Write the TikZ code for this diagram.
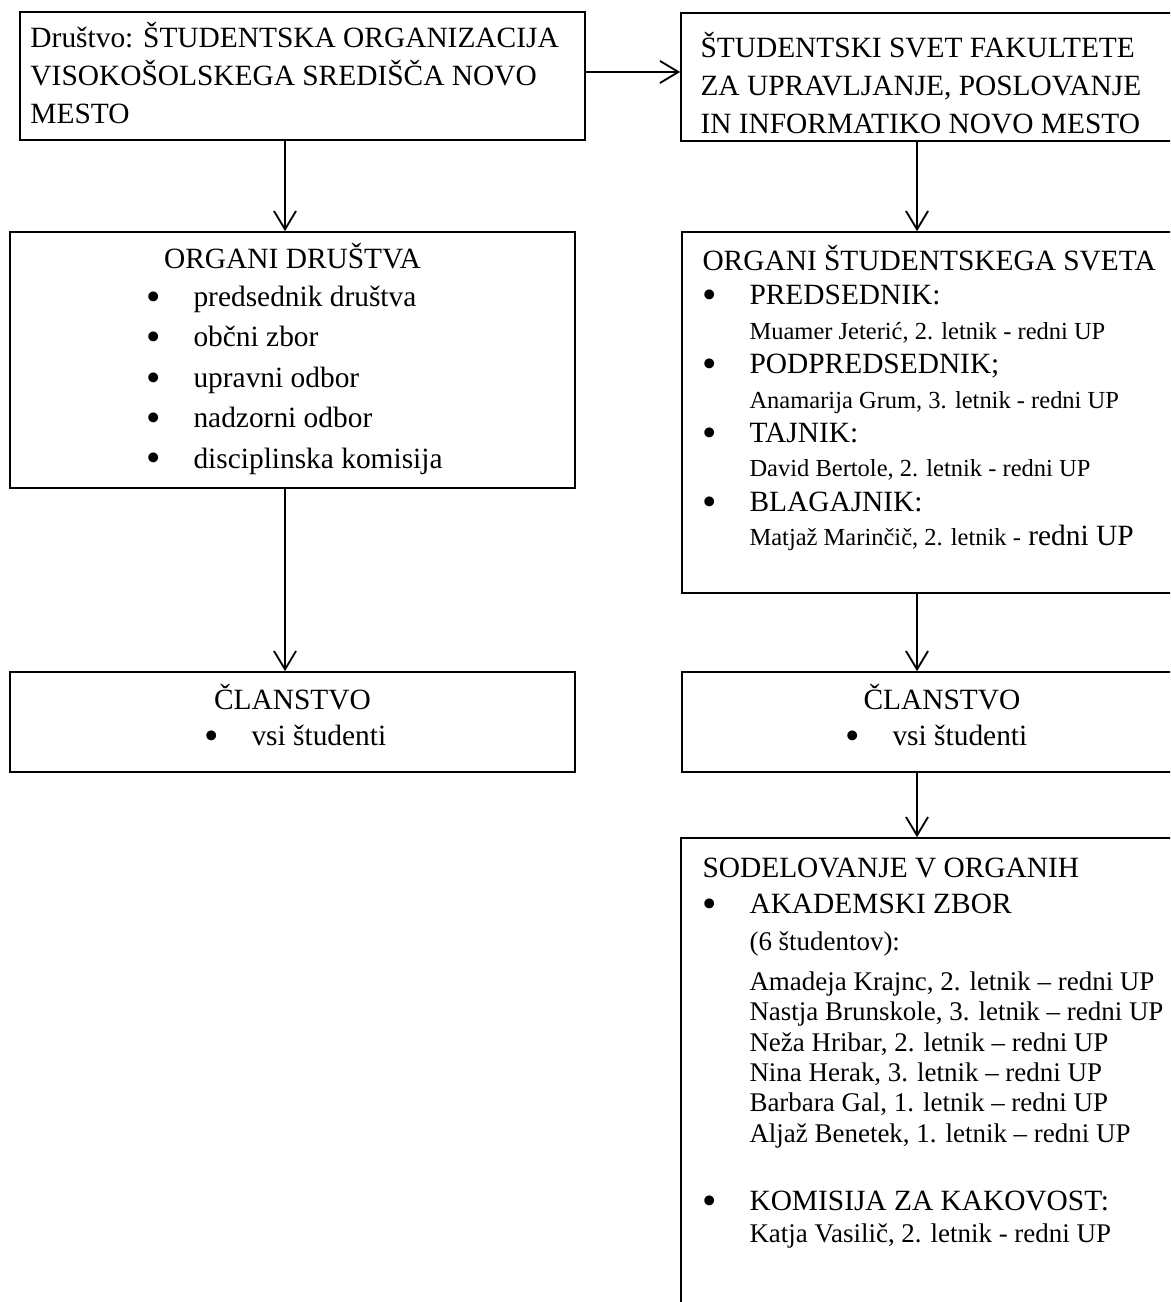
\documentclass[tikz,border=0pt]{standalone}
\usepackage{fontspec}
\setmainfont{Liberation Serif}
\usepackage{graphicx}
\usepackage{tikz}
\usetikzlibrary{positioning, arrows.meta, fit}

\newcommand{\firstrow}{\rule{0pt}{12pt}}
\newcommand{\pik}{\makebox[19.2pt][l]{\raisebox{-0.13em}{\scalebox{1.4}{\textbullet}}}}
\newcommand{\zamik}{\hspace*{19.2pt}}

\begin{document}
\begin{tikzpicture}[x=0.4082pt, y=-0.4082pt, >={Straight Barb[length=7.5pt, width=9pt]},
    box/.style={draw, line width=0.7pt, inner sep=0pt},
    txt/.style={inner sep=0pt, align=left, anchor=north west, font=\fontsize{12}{15.5}\selectfont},
    arr/.style={->, line width=0.75pt}]

        \useasboundingbox (0,0) rectangle (1170,1302);
        \clip (0,0) rectangle (1170,1302);

        % Okvirji (levo)
        \node [box, fit={(20,12) (585,140)}] (drustvo) {};
        \node [box, fit={(10,232) (575,488)}] (organi) {};
        \node [box, fit={(10,672) (575,772)}] (clanL) {};

        % Okvirji (desno, odrezani ob robu)
        \node [box, fit={(681,13) (1190,141)}] (svet) {};
        \node [box, fit={(682,232) (1190,593)}] (orgsvet) {};
        \node [box, fit={(682,672) (1190,772)}] (clanR) {};
        \node [box, fit={(681,838) (1190,1330)}] (sodel) {};

        % Besedila
        \node [txt] (drustvoT) at (30,17.6) {\firstrow Društvo: ŠTUDENTSKA ORGANIZACIJA\\ VISOKOŠOLSKEGA SREDIŠČA NOVO\\ MESTO};
        \node [txt] (svetT) at (700,27.6) {\firstrow ŠTUDENTSKI SVET FAKULTETE\\ ZA UPRAVLJANJE, POSLOVANJE\\ IN INFORMATIKO NOVO MESTO};

        \node [txt, anchor=north] (organiT) at (292.5,238.6) {\firstrow ORGANI DRUŠTVA};
        \node [txt, font=\fontsize{12}{16.5}\selectfont] (organiL) at (146,276.6) {\firstrow\pik predsednik društva\\ \pik občni zbor\\ \pik upravni odbor\\ \pik nadzorni odbor\\ \pik disciplinska komisija};

        \node [txt, anchor=north] (clanLT) at (292.5,679.6) {\firstrow ČLANSTVO};
        \node [txt] (clanLL) at (204,715.6) {\firstrow\pik vsi študenti};
        \node [txt, anchor=north] (clanRT) at (942,679.6) {\firstrow ČLANSTVO};
        \node [txt] (clanRL) at (845,715.6) {\firstrow\pik vsi študenti};

        \node [txt, font=\fontsize{12}{14.04}\selectfont] (orgsvetT) at (702,240.6) {\firstrow ORGANI ŠTUDENTSKEGA SVETA\\
            \pik PREDSEDNIK:\\
            \zamik{\fontsize{10}{12}\selectfont Muamer Jeterić, 2. letnik - redni UP}\\
            \pik PODPREDSEDNIK;\\
            \zamik{\fontsize{10}{12}\selectfont Anamarija Grum, 3. letnik - redni UP}\\
            \pik TAJNIK:\\
            \zamik{\fontsize{10}{12}\selectfont David Bertole, 2. letnik - redni UP}\\
            \pik BLAGAJNIK:\\
            \zamik{\fontsize{10}{12}\selectfont Matjaž Marinčič, 2. letnik -} redni UP};

        \node [txt, font=\fontsize{12}{12.4}\selectfont] (sodelT) at (702,847.6) {\firstrow SODELOVANJE V ORGANIH\\[2.3pt]
            \pik AKADEMSKI ZBOR\\[2.7pt]
            \zamik{\fontsize{11}{12.4}\selectfont (6 študentov):}\\[3.9pt]
            \zamik{\fontsize{11}{12.4}\selectfont Amadeja Krajnc, 2. letnik – redni UP}\\
            \zamik{\fontsize{11}{12.4}\selectfont Nastja Brunskole, 3. letnik – redni UP}\\
            \zamik{\fontsize{11}{12.4}\selectfont Neža Hribar, 2. letnik – redni UP}\\
            \zamik{\fontsize{11}{12.4}\selectfont Nina Herak, 3. letnik – redni UP}\\
            \zamik{\fontsize{11}{12.4}\selectfont Barbara Gal, 1. letnik – redni UP}\\
            \zamik{\fontsize{11}{12.4}\selectfont Aljaž Benetek, 1. letnik – redni UP}\\[15.4pt]
            \pik KOMISIJA ZA KAKOVOST:\\[0.7pt]
            \zamik{\fontsize{11}{12.4}\selectfont Katja Vasilič, 2. letnik - redni UP}};

        % Puščice
        \coordinate (colL) at (285,0);
        \coordinate (colR) at (917,0);
        \coordinate (rowA) at (0,72);
        \draw [arr] (drustvo.east |- rowA) -- (svet.west |- rowA);
        \draw [arr] (drustvo.south -| colL) -- (organi.north -| colL);
        \draw [arr] (organi.south -| colL) -- (clanL.north -| colL);
        \draw [arr] (svet.south -| colR) -- (orgsvet.north -| colR);
        \draw [arr] (orgsvet.south -| colR) -- (clanR.north -| colR);
        \draw [arr] (clanR.south -| colR) -- (sodel.north -| colR);

    \end{tikzpicture}
\end{document}
